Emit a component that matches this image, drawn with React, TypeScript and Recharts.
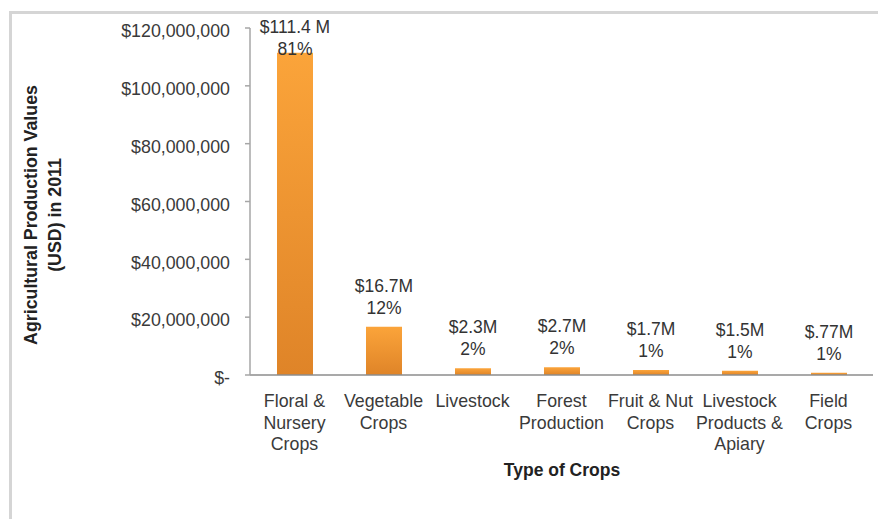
import { Bar, BarChart, LabelList, XAxis, YAxis } from "recharts";

const categories = [
    "Floral &\nNursery\nCrops",
    "Vegetable\nCrops",
    "Livestock",
    "Forest\nProduction",
    "Fruit & Nut\nCrops",
    "Livestock\nProducts &\nApiary",
    "Field\nCrops",
];
const values = [111400000, 16700000, 2300000, 2700000, 1700000, 1500000, 770000];
const valueLabels = ["$111.4 M", "$16.7M", "$2.3M", "$2.7M", "$1.7M", "$1.5M", "$.77M"];
const shareLabels = ["81%", "12%", "2%", "2%", "1%", "1%", "1%"];
const yTicks = [0, 20000000, 40000000, 60000000, 80000000, 100000000, 120000000];

const data = categories.map((category, i) => ({ category, value: values[i] }));

const FONT = "'Liberation Sans', Arial, Helvetica, sans-serif";
const TEXT = "#3a3a3a";

const formatDollar = (v: number) => (v === 0 ? "$-" : "$" + v.toLocaleString("en-US"));

const YTick = (props: any) => {
    const { x, y, payload } = props;
    return (
        <text x={x} y={y + 3} dy="0.355em" textAnchor="end" fontFamily={FONT} fontSize={17.8} fill={TEXT}>
            {formatDollar(payload.value)}
        </text>
    );
};

const XTick = (props: any) => {
    const { x, y, payload } = props;
    const lines = String(payload.value).split("\n");
    return (
        <text x={x} y={y} textAnchor="middle" fontFamily={FONT} fontSize={17.8} fill={TEXT}>
            {lines.map((line, i) => (
                <tspan key={i} x={x} y={y + 32 + i * 21.5}>
                    {line}
                </tspan>
            ))}
        </text>
    );
};

const BarLabel = (props: any) => {
    const { x, y, width, index } = props;
    const cx = Number(x) + Number(width) / 2;
    // labels sit above the bar, but never above the plot top
    const mid = Math.max(Number(y) - 19, 49);
    return (
        <g fontFamily={FONT} fontSize={17.5} fill="#333">
            <text x={cx} y={mid - 22} dy="0.35em" textAnchor="middle">
                {valueLabels[index]}
            </text>
            <text x={cx} y={mid} dy="0.35em" textAnchor="middle">
                {shareLabels[index]}
            </text>
        </g>
    );
};

const App = () => {
    return (
        <div
            style={{
                position: "fixed",
                left: 0,
                top: 0,
                width: 878,
                height: 519,
                overflow: "hidden",
                background: "#fff",
            }}
        >
            <div
                style={{
                    position: "absolute",
                    left: 9,
                    top: 11,
                    width: 1000,
                    height: 1000,
                    border: "3px solid #d5d5d5",
                }}
            />
            <BarChart
                width={878}
                height={519}
                data={data}
                margin={{ top: 28, right: 5, left: 0, bottom: 0 }}
                style={{ position: "absolute", left: 0, top: 0 }}
            >
                <defs>
                    <linearGradient id="orangeGradient" x1="0" y1="0" x2="0" y2="1">
                        <stop offset="0%" stopColor="#FBA43A" />
                        <stop offset="100%" stopColor="#DF8428" />
                    </linearGradient>
                </defs>
                <XAxis
                    dataKey="category"
                    interval={0}
                    height={144}
                    tickLine={false}
                    tickSize={0}
                    tickMargin={0}
                    axisLine={{ stroke: "#8c8c8c", strokeWidth: 1.5 }}
                    tick={<XTick />}
                    label={{
                        content: () => (
                            <text x={562} y={470} dy="0.35em" textAnchor="middle" fontFamily={FONT} fontSize={17.5} fontWeight="bold" fill="#222">
                                Type of Crops
                            </text>
                        ),
                    }}
                />
                <YAxis
                    width={250}
                    domain={[0, 120000000]}
                    ticks={yTicks}
                    interval={0}
                    tickSize={5}
                    tickMargin={15}
                    axisLine={{ stroke: "#a6a6a6", strokeWidth: 1.5 }}
                    tickLine={{ stroke: "#a6a6a6", strokeWidth: 1.5 }}
                    tick={<YTick />}
                    label={{
                        content: () => (
                            <text transform="translate(0,215) rotate(-90)" textAnchor="middle" fontFamily={FONT} fontSize={17.8} fontWeight="bold" fill="#222">
                                <tspan x={0} y={37}>Agricultural Production Values</tspan>
                                <tspan x={0} y={61}>(USD) in 2011</tspan>
                            </text>
                        ),
                    }}
                />
                <Bar dataKey="value" barSize={36} fill="url(#orangeGradient)" isAnimationActive={false}>
                    <LabelList dataKey="value" content={<BarLabel />} />
                </Bar>
            </BarChart>
        </div>
    );
};

export default App;
